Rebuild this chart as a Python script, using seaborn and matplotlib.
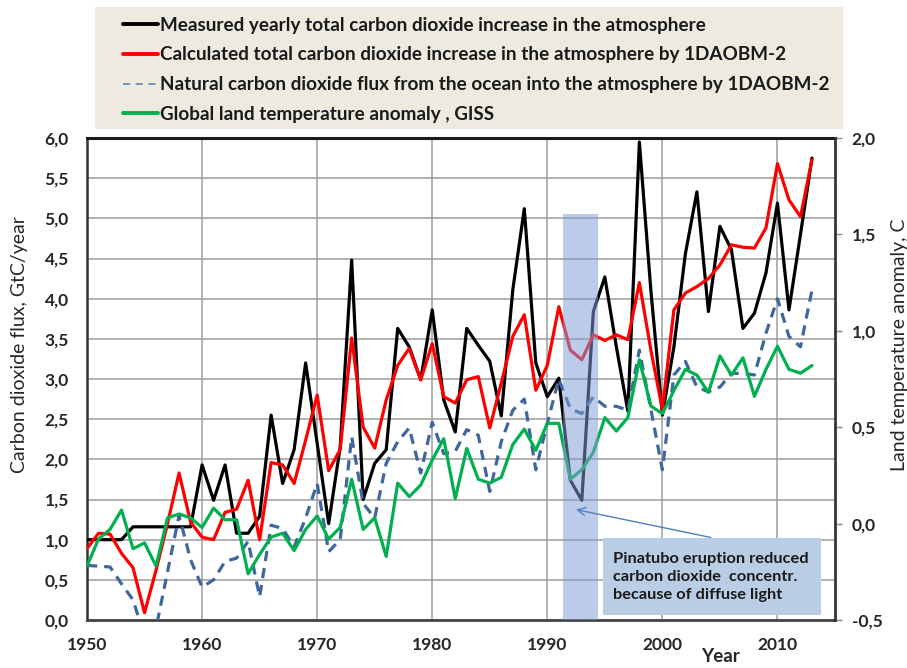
import numpy as np
import pandas as pd
import matplotlib
matplotlib.use("Agg")
import matplotlib.pyplot as plt
import seaborn as sns
from matplotlib.lines import Line2D
from matplotlib.patches import Rectangle

# ---------------- data ----------------
years = list(range(1950, 2014))

measured = [1.00, 1.00, 1.00, 1.00, 1.16, 1.16, 1.16, 1.16, 1.16, 1.16,
            1.93, 1.49, 1.93, 1.08, 1.08, 1.29, 2.55, 1.70, 2.12, 3.20,
            2.20, 1.20, 2.15, 4.48, 1.50, 1.95, 2.12, 3.63, 3.40, 2.99,
            3.86, 2.74, 2.34, 3.63, 3.42, 3.22, 2.54, 4.11, 5.12, 3.20,
            2.78, 3.01, 1.74, 1.49, 3.84, 4.27, 3.40, 2.60, 5.95, 4.10,
            2.55, 3.40, 4.56, 5.33, 3.84, 4.90, 4.61, 3.63, 3.82, 4.32,
            5.19, 3.86, 4.80, 5.75]

calculated = [0.89, 1.08, 1.07, 0.83, 0.65, 0.09, 0.62, 1.20, 1.83, 1.22,
              1.03, 1.00, 1.34, 1.38, 1.74, 1.00, 1.96, 1.93, 1.70, 2.24,
              2.80, 1.86, 2.12, 3.51, 2.40, 2.14, 2.74, 3.17, 3.38, 2.99,
              3.44, 2.78, 2.70, 2.99, 3.03, 2.39, 2.95, 3.53, 3.80, 2.86,
              3.17, 3.90, 3.36, 3.24, 3.55, 3.48, 3.55, 3.49, 4.20, 3.36,
              2.62, 3.86, 4.07, 4.15, 4.25, 4.42, 4.67, 4.64, 4.63, 4.88,
              5.68, 5.23, 5.02, 5.73]

natural = [0.68, 0.67, 0.66, 0.45, 0.25, -0.20, -0.10, 0.60, 1.30, 0.75,
           0.41, 0.50, 0.73, 0.77, 0.98, 0.29, 1.18, 1.14, 0.91, 1.27,
           1.70, 0.85, 1.00, 2.28, 1.45, 1.27, 1.95, 2.22, 2.39, 1.83,
           2.46, 2.07, 2.10, 2.37, 2.30, 1.60, 2.22, 2.61, 2.75, 1.87,
           2.45, 3.00, 2.63, 2.57, 2.78, 2.66, 2.66, 2.61, 3.36, 2.62,
           1.87, 3.05, 3.22, 2.90, 2.84, 2.90, 3.07, 3.07, 3.05, 3.57,
           4.00, 3.53, 3.40, 4.11]

land_temp = [-0.22, -0.08, -0.03, 0.07, -0.13, -0.10, -0.22, 0.03, 0.05, 0.03,
             -0.02, 0.08, 0.02, 0.02, -0.26, -0.16, -0.07, -0.05, -0.14, -0.03,
             0.04, -0.08, -0.02, 0.23, -0.03, 0.03, -0.17, 0.21, 0.14, 0.20,
             0.33, 0.44, 0.13, 0.39, 0.23, 0.21, 0.24, 0.41, 0.49, 0.38,
             0.52, 0.52, 0.23, 0.28, 0.37, 0.55, 0.48, 0.55, 0.85, 0.61,
             0.57, 0.69, 0.80, 0.77, 0.68, 0.87, 0.77, 0.86, 0.66, 0.80,
             0.92, 0.80, 0.78, 0.82]

series_labels = [
    "Measured yearly total carbon dioxide increase in the atmosphere",
    "Calculated total carbon dioxide increase in the atmosphere by 1DAOBM-2",
    "Natural carbon dioxide flux from the ocean into the atmosphere by 1DAOBM-2",
    "Global land temperature anomaly , GISS",
]

x_ticks = [1950, 1960, 1970, 1980, 1990, 2000, 2010]
x_tick_labels = ["1950", "1960", "1970", "1980", "1990", "2000", "2010"]
left_ticks = [0.0, 0.5, 1.0, 1.5, 2.0, 2.5, 3.0, 3.5, 4.0, 4.5, 5.0, 5.5, 6.0]
left_tick_labels = ["0,0", "0,5", "1,0", "1,5", "2,0", "2,5", "3,0",
                    "3,5", "4,0", "4,5", "5,0", "5,5", "6,0"]
right_ticks = [-0.5, 0.0, 0.5, 1.0, 1.5, 2.0]
right_tick_labels = ["-0,5", "0,0", "0,5", "1,0", "1,5", "2,0"]

pinatubo_span = (1991.4, 1994.4)
pinatubo_top = 5.05
note_text = "Pinatubo eruption reduced\ncarbon dioxide  concentr.\nbecause of diffuse light"

df = pd.DataFrame({"year": years, "measured": measured, "calculated": calculated,
                   "natural": natural, "land_temp": land_temp})

# ---------------- style ----------------
sns.set_style("white")
plt.rcParams["font.family"] = ["Lato", "DejaVu Sans"]

W, H = 907, 668
fig = plt.figure(figsize=(W / 100, H / 100), dpi=100)
L, R, T, B = 87, 835, 138, 620
ax = fig.add_axes([L / W, 1 - B / H, (R - L) / W, (B - T) / H])
ax2 = ax.twinx()

C_BLACK = "#000000"
C_RED = "#FF0000"
C_BLUE = "#3F679D"
C_GREEN = "#00B050"

sns.lineplot(data=df, x="year", y="measured", ax=ax, color=C_BLACK, lw=2.3, zorder=3)
sns.lineplot(data=df, x="year", y="calculated", ax=ax, color=C_RED, lw=2.3, zorder=4)
sns.lineplot(data=df, x="year", y="natural", ax=ax, color=C_BLUE, lw=2.3,
             linestyle=(0, (3.2, 2.2)), zorder=5)
sns.lineplot(data=df, x="year", y="land_temp", ax=ax2, color=C_GREEN, lw=2.3, zorder=3)

ax.set_xlim(1950, 2015)
ax.set_ylim(0, 6)
ax2.set_ylim(-0.5, 2.0)

ax.set_xticks(x_ticks)
ax.set_xticklabels(x_tick_labels, fontweight="bold", fontsize=12.5)
ax.set_yticks(left_ticks)
ax.set_yticklabels(left_tick_labels, fontweight="bold", fontsize=12.5)
ax2.set_yticks(right_ticks)
ax2.set_yticklabels(right_tick_labels, fontweight="bold", fontsize=12.5)

ax.grid(True, color="#9C9C9C", lw=1.1)
ax.set_axisbelow(True)
ax2.grid(False)

ax.tick_params(axis="y", length=0, pad=13)
ax.tick_params(axis="x", length=0, pad=12)
ax2.tick_params(axis="y", length=5, width=1, color="#8A8A8A", direction="out", pad=7)

for s in ["left", "top", "right", "bottom"]:
    ax.spines[s].set_visible(True)
ax.spines["top"].set_color("#1A1A1A"); ax.spines["top"].set_linewidth(2.2)
ax.spines["left"].set_color("#333333"); ax.spines["left"].set_linewidth(1.8)
ax.spines["bottom"].set_color("#444444"); ax.spines["bottom"].set_linewidth(2.0)
ax.spines["right"].set_visible(False)
for s in ["left", "top", "bottom"]:
    ax2.spines[s].set_visible(False)
ax2.spines["right"].set_visible(True)
ax2.spines["right"].set_color("#333333"); ax2.spines["right"].set_linewidth(2.0)

ax.set_xlabel("Year", fontweight="bold", fontsize=13.5)
ax.xaxis.set_label_coords((720 - L) / (R - L), (B - 657) / (B - T))
ax.xaxis.label.set_va("center")
ax.set_ylabel("Carbon dioxide flux, GtC/year", fontsize=14)
ax.yaxis.set_label_coords((20 - L) / (R - L), (B - 345) / (B - T))
ax.yaxis.label.set_va("center")
ax2.set_ylabel("Land temperature anomaly, C", fontsize=14, rotation=90)
ax2.yaxis.set_label_coords((899 - L) / (R - L), (B - 345) / (B - T))
ax2.yaxis.label.set_va("center")

# Pinatubo shading (above the lines)
ax2.axvspan(pinatubo_span[0], pinatubo_span[1], ymin=0, ymax=pinatubo_top / 6,
            color="#829DD3", alpha=0.53, lw=0, zorder=10)

# annotation box
bx0, bx1 = 1950 + (603 - L) / 11.5, 1950 + (821 - L) / 11.5
by0, by1 = 6 * (B - 615) / (B - T), 6 * (B - 538) / (B - T)
ax2.add_patch(Rectangle((bx0, by0), bx1 - bx0, by1 - by0, transform=ax.transData,
                        facecolor="#B9CDE5", edgecolor="none", zorder=11))
ax2.text(1950 + (613 - L) / 11.5, 6 * (B - 577) / (B - T), note_text,
         transform=ax.transData, fontsize=11.8, fontweight="bold", color="#1A1A1A",
         ha="left", va="center", linespacing=1.32, zorder=12)
ax2.annotate("", xy=(1950 + (573 - L) / 11.5, 6 * (B - 509) / (B - T)), xycoords=ax.transData,
             xytext=(1950 + (713 - L) / 11.5, 6 * (B - 538) / (B - T)), textcoords=ax.transData,
             arrowprops=dict(arrowstyle="->", color="#4F81BD", lw=1.0, mutation_scale=14),
             zorder=12)

# legend panel
fig.patches.append(Rectangle((95 / W, 1 - 129 / H), 748 / W, 122 / H, transform=fig.transFigure,
                             facecolor="#EDEAE0", edgecolor="none", zorder=0))
handles = [Line2D([], [], color=C_BLACK, lw=2.8),
           Line2D([], [], color=C_RED, lw=2.8),
           Line2D([], [], color="#6D8BB8", lw=1.3, linestyle=(0, (4, 3))),
           Line2D([], [], color=C_GREEN, lw=2.8)]
leg = fig.legend(handles, series_labels, loc="upper left",
                 bbox_to_anchor=(123 / W, 1 - 16.5 / H), frameon=False,
                 handlelength=1.85, handletextpad=0.12, labelspacing=0.68,
                 borderaxespad=0, borderpad=0,
                 prop=dict(family="Lato", weight="bold", size=13.6))
for t in leg.get_texts():
    t.set_color("#1A1A1A")

fig.savefig("out.png", dpi=100)
